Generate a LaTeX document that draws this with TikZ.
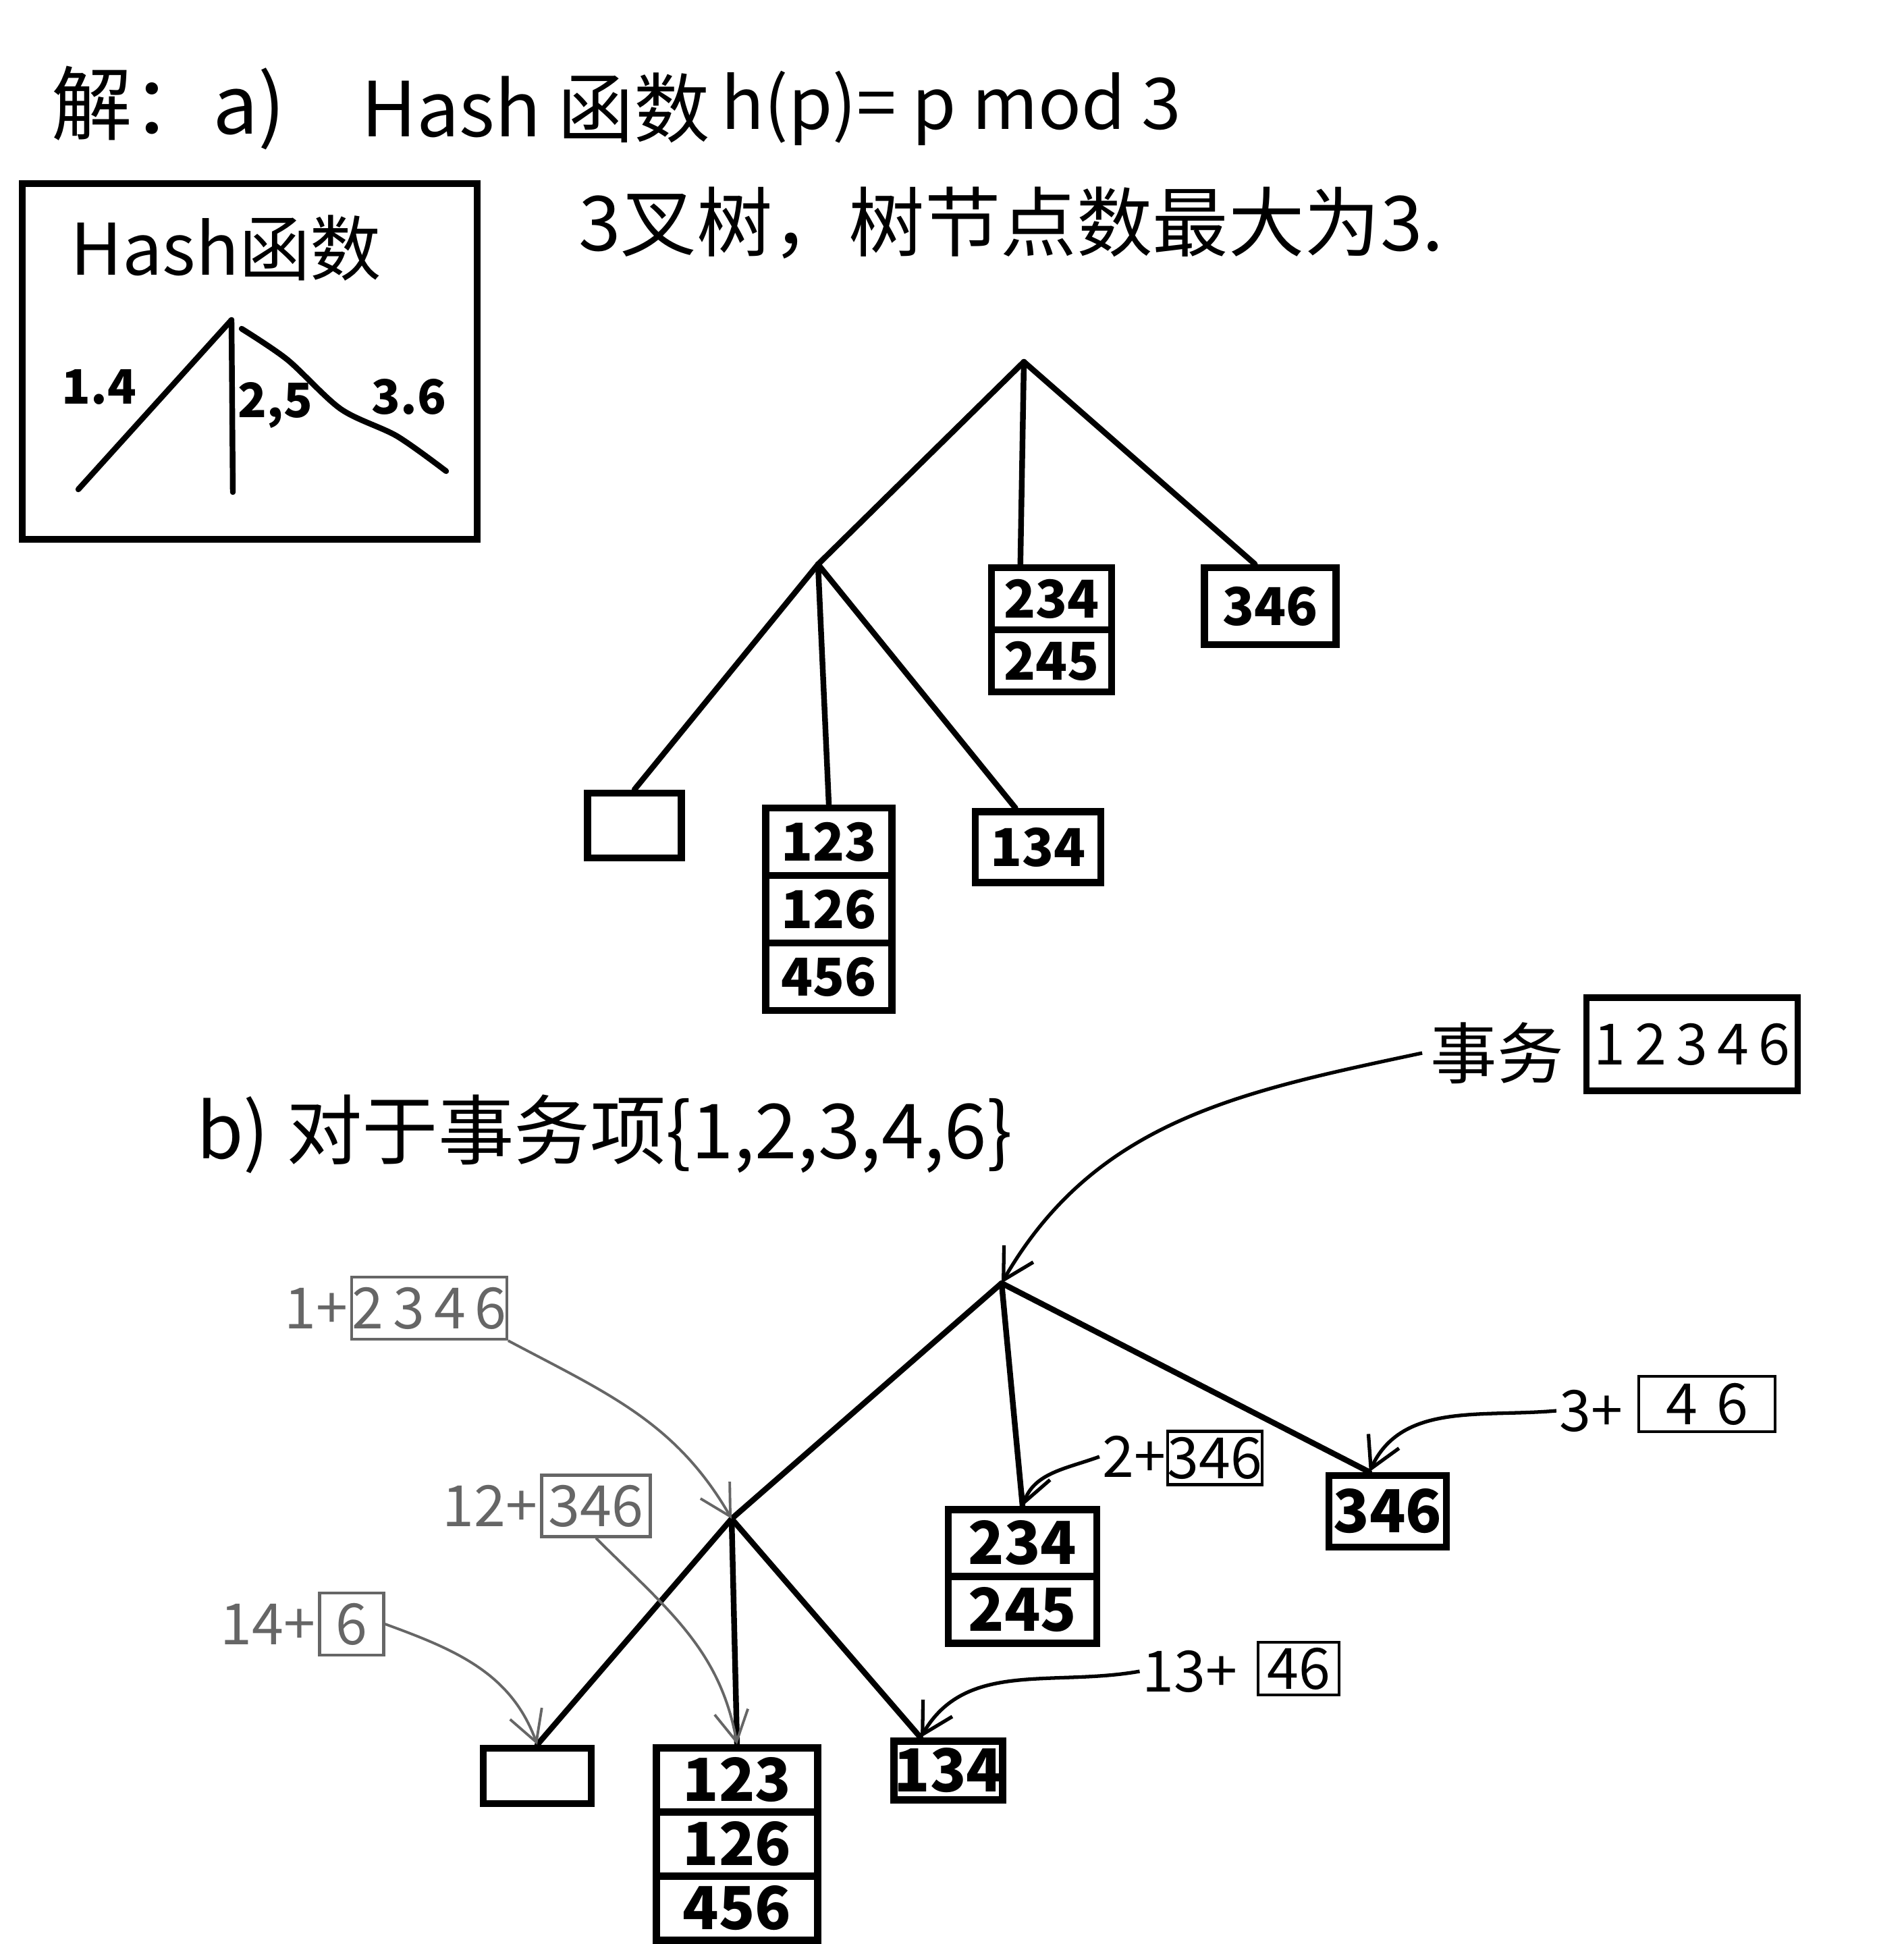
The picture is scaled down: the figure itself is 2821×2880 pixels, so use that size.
\documentclass[tikz,border=0pt]{standalone}
\usepackage{fontspec}
\setmainfont{Noto Sans CJK SC}
\usetikzlibrary{arrows.meta}

\tikzset{
  branch/.style={line width=2.4pt, line cap=round},
  cell/.style={draw, line width=3pt, inner sep=0pt, font=\bfseries\fontsize{22}{26}\selectfont},
  bcell/.style={cell, font=\bfseries\fontsize{25}{30}\selectfont},
  note/.style={font=\fontsize{24}{28}\selectfont, inner sep=1pt},
  notebox/.style={draw, line width=1.2pt, inner sep=0pt, font=\fontsize{24}{28}\selectfont},
  faint/.style={black!60},
  hint/.style={line width=1.1pt, -{Straight Barb[length=0.45cm,width=0.5cm]}},
}

\begin{document}
\begin{tikzpicture}[x=0.01cm,y=-0.01cm]
\useasboundingbox (0,0) rectangle (2821,2880);
\fill[white] (0,0) rectangle (2821,2880);

% part a
\node[anchor=west, font=\fontsize{34}{40}\selectfont] (sol) at (64,160) {解：a)};
\node[anchor=west, font=\fontsize{32}{38}\selectfont] (hashname) at (523,160) {Hash 函数};
\node[anchor=west, font=\fontsize{30}{36}\selectfont] (hashdef) at (1056,160) {h(p)= p mod 3};
\node[anchor=west, font=\fontsize{32}{38}\selectfont] (treeinfo) at (845,330) {3叉树，树节点数最大为3.};

\draw[line width=2.6pt] (33,272) rectangle (707,799);
\node[font=\fontsize{30}{36}\selectfont] (boxtitle) at (335,367) {Hash函数};
\coordinate (htop) at (343,474);
\coordinate (hleft) at (116,725);
\coordinate (hmid) at (345,729);
\draw[branch] (htop) -- (hleft);
\draw[branch] (htop) -- (hmid);
\draw[branch, smooth] plot coordinates {(358,487) (426,533) (505,606) (588,646) (661,698)};
\node[font=\bfseries\fontsize{20}{24}\selectfont] (lab14) at (147,573) {1.4};
\node[font=\bfseries\fontsize{20}{24}\selectfont] (lab25) at (408,600) {2,5};
\node[font=\bfseries\fontsize{20}{24}\selectfont] (lab36) at (606,588) {3.6};

\coordinate (aroot) at (1517,536);
\coordinate (ajoin) at (1212,836);
\node[cell, minimum width=1.78cm, minimum height=0.92cm] (a234) at (1558,887) {234};
\node[cell, minimum width=1.78cm, minimum height=0.92cm] (a245) at (1558,979) {245};
\node[cell, minimum width=1.95cm, minimum height=1.14cm] (a346) at (1882,898) {346};
\node[cell, minimum width=1.39cm, minimum height=0.96cm] (aempty) at (940,1223) {};
\node[cell, minimum width=1.87cm, minimum height=1cm] (a123) at (1228,1247) {123};
\node[cell, minimum width=1.87cm, minimum height=1cm] (a126) at (1228,1347) {126};
\node[cell, minimum width=1.87cm, minimum height=1cm] (a456) at (1228,1447) {456};
\node[cell, minimum width=1.86cm, minimum height=1.05cm] (a134) at (1538,1255) {134};

\draw[branch] (aroot) -- (ajoin);
\draw[branch] (aroot) -- (a234.132);
\draw[branch] (aroot) -- (a346.110);
\draw[branch] (ajoin) -- (aempty.north);
\draw[branch] (ajoin) -- (a123.north);
\draw[branch] (ajoin) -- (a134.120);

% part b
\node[anchor=west, font=\fontsize{32}{38}\selectfont] (partb) at (279,1680) {b) 对于事务项\{1,2,3,4,6\}};
\node[font=\fontsize{28}{34}\selectfont] (tx) at (2218,1560) {事务};
\node[draw, line width=2.6pt, inner sep=0pt, minimum width=3.12cm, minimum height=1.38cm,
      font=\fontsize{24}{30}\selectfont] (txset) at (2507,1547) {1\,2\,3\,4\,6};

\coordinate (broot) at (1484,1901);
\coordinate (bjoin) at (1084,2250);
\node[bcell, minimum width=2.2cm, minimum height=0.99cm] (b234) at (1515,2286) {234};
\node[bcell, minimum width=2.2cm, minimum height=0.99cm] (b245) at (1515,2385) {245};
\node[bcell, minimum width=1.74cm, minimum height=1.06cm] (b346) at (2056,2239) {346};
\node[bcell, minimum width=1.6cm, minimum height=0.82cm] (bempty) at (796,2631) {};
\node[bcell, minimum width=2.39cm, minimum height=0.95cm] (b123) at (1092,2637) {123};
\node[bcell, minimum width=2.39cm, minimum height=0.95cm] (b126) at (1092,2732) {126};
\node[bcell, minimum width=2.39cm, minimum height=0.95cm] (b456) at (1092,2827) {456};
\node[bcell, minimum width=1.58cm, minimum height=0.87cm] (b134) at (1405,2623) {134};

\draw[branch] (broot) -- (bjoin);
\draw[branch] (bjoin) -- (bempty.north);
\draw[branch] (bjoin) -- (b123.north);
\draw[branch] (bjoin) -- (b134.130);
\draw[branch] (broot) -- (b234.north);
\draw[branch] (broot) -- (b346.115);

\draw[hint, line width=1.5pt] (tx.west) to[out=192, in=60] (broot);

\node[notebox, faint, minimum width=2.26cm, minimum height=0.92cm] (q1) at (636,1938) {2\,3\,4\,6};
\node[note, faint, anchor=east] (p1) at (q1.west) {1+};
\node[notebox, faint, minimum width=1.61cm, minimum height=0.91cm] (q12) at (883,2231) {346};
\node[note, faint, anchor=east] (p12) at (q12.west) {12+};
\node[notebox, faint, minimum width=0.95cm, minimum height=0.92cm] (q14) at (521,2406) {6};
\node[note, faint, anchor=east] (p14) at (q14.west) {14+};

\draw[hint, faint] (q1.south east) to[out=-28, in=120] (bjoin);
\draw[hint, faint] (q12.south) to[out=-45, in=100] (b123.north);
\draw[hint, faint] (q14.east) to[out=-20, in=110] (bempty.north);

\node[note] (p2) at (1680,2158) {2+};
\node[notebox, minimum width=1.4cm, minimum height=0.79cm] (q2) at (1800,2160) {346};
\node[note] (p3) at (2357,2090) {3+};
\node[notebox, minimum width=2.02cm, minimum height=0.82cm] (q3) at (2529,2080) {4\,\,6};
\node[note] (p13) at (1763,2476) {13+};
\node[notebox, minimum width=1.2cm, minimum height=0.78cm] (q13) at (1924,2472) {46};

\draw[hint, line width=1.5pt] (p2.west) to[out=200, in=70] (b234.north);
\draw[hint, line width=1.5pt] (p3.west) to[out=185, in=65] (b346.115);
\draw[hint, line width=1.5pt] (p13.west) to[out=190, in=60] (b134.130);
\end{tikzpicture}
\end{document}
